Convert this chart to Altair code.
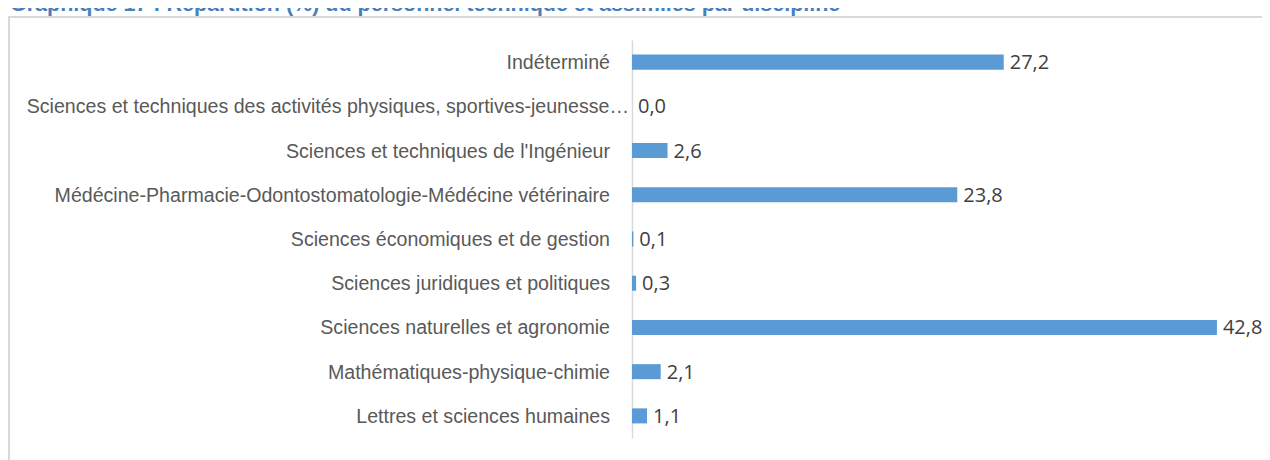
import altair as alt
import pandas as pd

TITLE = "Graphique 17 : Répartition (%) du personnel technique et assimilés par discipline"

categories = [
    "Indéterminé",
    "Sciences et techniques des activités physiques, sportives-jeunesse…",
    "Sciences et techniques de l'Ingénieur",
    "Médécine-Pharmacie-Odontostomatologie-Médécine vétérinaire",
    "Sciences économiques et de gestion",
    "Sciences juridiques et politiques",
    "Sciences naturelles et agronomie",
    "Mathématiques-physique-chimie",
    "Lettres et sciences humaines",
]
values = [27.2, 0.0, 2.6, 23.8, 0.1, 0.3, 42.8, 2.1, 1.1]

df = pd.DataFrame({
    "cat": categories,
    "val": values,
    "lbl": [f"{v:.1f}".replace(".", ",") for v in values],
})

LONG = categories[1]

PLOT_W = 615
PLOT_H = 398
PAD_L = 624
PAD_T = 32
TOTAL_W = 1254
TOTAL_H = 452

x = alt.X("val:Q", axis=None, scale=alt.Scale(domain=[0, 45], nice=False, zero=True))
y = alt.Y(
    "cat:N",
    sort=categories,
    title=None,
    scale=alt.Scale(domain=categories, paddingInner=0.66, paddingOuter=0.33),
    axis=alt.Axis(
        ticks=False,
        grid=False,
        labels=False,
        domainColor="#d9d9d9",
        domainWidth=1.5,
    ),
)

bars = alt.Chart(df).mark_bar(color="#5b9bd5").encode(x=x, y=y)

values_text = alt.Chart(df).mark_text(
    align="left", baseline="middle", dx=6, dy=1,
    font="Open Sans", fontSize=20, color="#404040",
).encode(x=x, y=y, text="lbl:N")

label_style = dict(align="right", baseline="middle", dy=1,
                   font="Liberation Sans", fontSize=19.6, color="#595959")

cat_text = alt.Chart(df).mark_text(**label_style).encode(
    x=alt.value(-22), y=y, text="cat:N"
).transform_filter(alt.datum.cat != LONG)

long_text = alt.Chart(df).mark_text(**label_style).encode(
    x=alt.value(-3), y=y, text="cat:N"
).transform_filter(alt.datum.cat == LONG)

border = alt.Chart(pd.DataFrame({"a": [0]})).mark_rect(
    fillOpacity=0, stroke="#d9d9d9", strokeWidth=2
).encode(
    x=alt.value(-PAD_L + 1),
    x2=alt.value(TOTAL_W - PAD_L + 10),
    y=alt.value(9 - PAD_T),
    y2=alt.value(TOTAL_H - PAD_T + 10),
)

title = alt.Chart(pd.DataFrame({"t": [TITLE]})).mark_text(
    align="left", baseline="alphabetic", font="Liberation Sans",
    fontSize=21.5, fontWeight="bold", color="#4a7ebb",
).encode(x=alt.value(-PAD_L + 2), y=alt.value(3 - PAD_T), text="t:N")

chart = alt.layer(border, title, bars, values_text, cat_text, long_text).properties(
    width=PLOT_W,
    height=PLOT_H,
    autosize=alt.AutoSizeParams(type="none"),
    padding={"left": PAD_L, "top": PAD_T, "right": TOTAL_W - PAD_L - PLOT_W, "bottom": TOTAL_H - PAD_T - PLOT_H},
).configure_view(stroke=None)

chart.save("out.html", embed_options={"renderer": "svg", "actions": False})
